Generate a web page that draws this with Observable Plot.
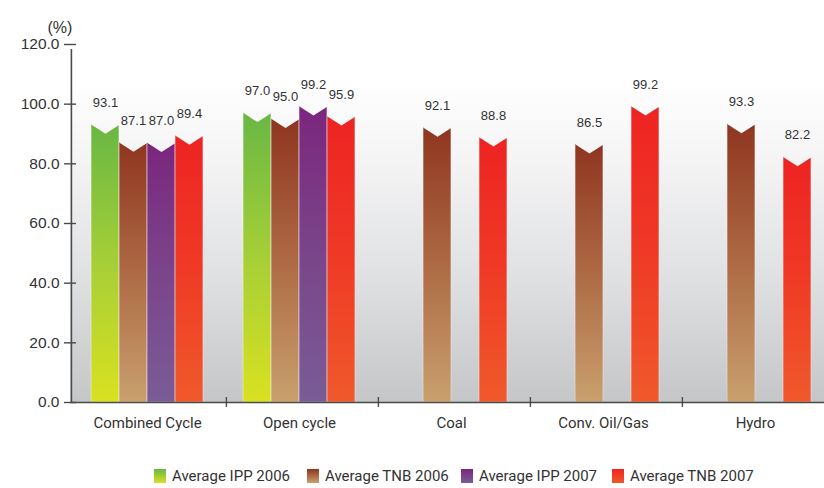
<!DOCTYPE html>
<html>
<head>
<meta charset="utf-8">
<script src="https://cdn.jsdelivr.net/npm/d3@7"></script>
<script src="https://cdn.jsdelivr.net/npm/@observablehq/plot@0.6"></script>
<style>
  html, body { margin: 0; padding: 0; background: #fff; overflow: hidden; }
  #wrap { width: 824px; height: 488px; overflow: hidden; position: relative; }
  #legend { position: absolute; left: 0; top: 466px; width: 824px; height: 20px;
    font-family: Roboto, sans-serif; font-size: 15px; color: #333; }
  .item { position: absolute; top: 0; display: flex; align-items: center; height: 20px; white-space: nowrap; }
  .sw { width: 12px; height: 14px; margin-right: 6px; }
  svg text.arial, g.arial text { font-family: "Liberation Sans", Arial, sans-serif; }
</style>
</head>
<body>
<div id="wrap"><div id="chart"></div><div id="legend"></div></div>
<script>
const categories = ["Combined Cycle", "Open cycle", "Coal", "Conv. Oil/Gas", "Hydro"];
const series = ["Average IPP 2006", "Average TNB 2006", "Average IPP 2007", "Average TNB 2007"];
// values per series, aligned to categories (null = no bar)
const ipp2006 = [93.1, 97.0, null, null, null];
const tnb2006 = [87.1, 95.0, 92.1, 86.5, 93.3];
const ipp2007 = [87.0, 99.2, null, null, null];
const tnb2007 = [89.4, 95.9, 88.8, 99.2, 82.2];
const yTicks = [0, 20, 40, 60, 80, 100, 120];

const seriesValues = [ipp2006, tnb2006, ipp2007, tnb2007];
const gradIds = ["gIPP06", "gTNB06", "gIPP07", "gTNB07"];
const gradStops = [
  ["#69b744", "#a6cf37", "#d9e120"],
  ["#8f3520", "#ad6a44", "#c9a06e"],
  ["#7b267d", "#7a458a", "#7a5c96"],
  ["#ee2323", "#ef3a26", "#f0592b"]
];

const W = 824, H = 450;
const mTop = 44, mBottom = 48, mLeft = 70;
const xRange = [70, 831];
const yDomain = [0, 120];
const bw = (xRange[1] - xRange[0]) / categories.length;
const barW = 28;

// background gradient (pixel space of the svg)
const bgTop = 80, bgBottom = H - mBottom;
const bgStops = [[0, "#ffffff"], [0.25, "#f4f4f5"], [0.6, "#e0e1e3"], [1, "#c5c6c8"]];
const bgOffset = d3.scaleLinear().domain([bgTop, bgBottom]).range([0, 1]).clamp(true);
const bgColor = d3.scaleLinear().domain(bgStops.map(s => s[0])).range(bgStops.map(s => s[1]))
  .interpolate(d3.interpolateRgb);
const yPix = d3.scaleLinear().domain(yDomain).range([H - mBottom, mTop]);
const bgAtValue = v => bgColor(bgOffset(yPix(v) + 3));

const table = [];
seriesValues.forEach((vals, si) => vals.forEach((v, ci) => {
  if (v != null) table.push({category: categories[ci], series: series[si], si, value: v});
}));

const notch = {
  draw(ctx) {
    ctx.moveTo(-14, -1.5);
    ctx.lineTo(14, -1.5);
    ctx.lineTo(14, 0);
    ctx.lineTo(0, 9);
    ctx.lineTo(-14, 0);
    ctx.closePath();
  }
};

const marks = [
  Plot.frame({fill: "url(#bgGrad)", stroke: "none"})
];
series.forEach((s, si) => {
  const data = table.filter(d => d.si === si);
  const off = (si - 1.5) * barW;
  const inset = (bw - barW) / 2;
  marks.push(
    Plot.barY(data, {x: "category", y: "value", fill: `url(#${gradIds[si]})`,
      insetLeft: inset + off, insetRight: inset - off,
      stroke: "#ffffff", strokeOpacity: 0.35, strokeWidth: 1}),
    Plot.dot(data, {x: "category", y: "value", dx: off, symbol: notch, r: 5,
      fill: d => bgAtValue(d.value), stroke: "none"}),
    Plot.text(data, {x: "category", y: "value", dx: off, dy: -22, text: d => d.value.toFixed(1),
      fill: "#333", fontSize: 13, className: "arial"})
  );
});
marks.push(
  Plot.ruleY([0], {stroke: "#4a4a4a", strokeWidth: 1.6}),
  Plot.ruleX([categories[0]], {x: d => d, y1: 0, y2: 120, dx: -bw / 2, insetBottom: -5,
    stroke: "#4a4a4a", strokeWidth: 1.6}),
  Plot.axisY({ticks: yTicks, tickSize: 12, dx: 6, tickPadding: 5, tickFormat: d => d.toFixed(1),
    stroke: "#4a4a4a", strokeWidth: 1.4, fill: "#333", fontSize: 15.5, className: "arial", label: null}),
  Plot.axisX({ticks: categories.slice(1), tickSize: 10, dy: -5, dx: -bw / 2 + 3, tickFormat: () => "",
    stroke: "#4a4a4a", strokeWidth: 1.4, label: null}),
  Plot.axisX({tickSize: 0, tickPadding: 15, fill: "#333", fontSize: 15,
    fontFamily: "Roboto", label: null}),
  Plot.text(["(%)"], {frameAnchor: "top-left", dx: -23, dy: -23, text: d => d, fill: "#333",
    fontSize: 16, className: "arial"})
);

const chart = Plot.plot({
  width: W, height: H,
  marginLeft: mLeft, marginRight: W - xRange[1], marginTop: mTop, marginBottom: mBottom,
  style: {background: "transparent", overflow: "visible"},
  x: {domain: categories, range: xRange, padding: 0},
  y: {domain: yDomain},
  color: {type: "identity"},
  marks
});

const ns = "http://www.w3.org/2000/svg";
const defs = document.createElementNS(ns, "defs");
let html = `<linearGradient id="bgGrad" gradientUnits="userSpaceOnUse" x1="0" y1="${bgTop}" x2="0" y2="${bgBottom}">` +
  bgStops.map(s => `<stop offset="${s[0]}" stop-color="${s[1]}"/>`).join("") + `</linearGradient>`;
gradIds.forEach((id, i) => {
  html += `<linearGradient id="${id}" x1="0" y1="0" x2="0" y2="1">
    <stop offset="0" stop-color="${gradStops[i][0]}"/><stop offset="0.5" stop-color="${gradStops[i][1]}"/>
    <stop offset="1" stop-color="${gradStops[i][2]}"/></linearGradient>`;
});
defs.innerHTML = html;
chart.insertBefore(defs, chart.firstChild);
document.getElementById("chart").appendChild(chart);

const legend = document.getElementById("legend");
const legendLeft = [154, 307, 461, 612];
series.forEach((s, i) => {
  const it = document.createElement("div");
  it.className = "item";
  it.style.left = legendLeft[i] + "px";
  const sw = document.createElement("div");
  sw.className = "sw";
  sw.style.background = `linear-gradient(${gradStops[i][0]}, ${gradStops[i][2]})`;
  it.appendChild(sw);
  const tx = document.createElement("span");
  tx.textContent = s;
  it.appendChild(tx);
  legend.appendChild(it);
});
</script>
</body>
</html>
